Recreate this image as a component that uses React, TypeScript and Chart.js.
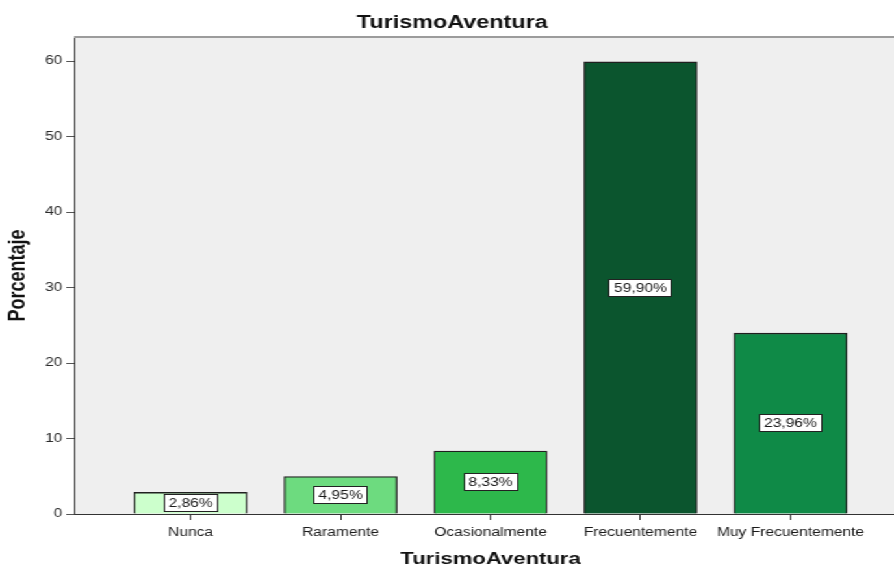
import React, { useEffect, useRef } from "react";
import { Chart, registerables } from "chart.js";

Chart.register(...registerables);

// ---- data ----
const categories = ["Nunca", "Raramente", "Ocasionalmente", "Frecuentemente", "Muy Frecuentemente"];
const percentages = [2.86, 4.95, 8.33, 59.9, 23.96];
const barColors = ["#ccffcc", "#6ddb7f", "#2db84b", "#0b552e", "#0f8a47"];
const yTicks = [0, 10, 20, 30, 40, 50, 60];
const chartTitle = "TurismoAventura";
const xTitle = "TurismoAventura";
const yTitle = "Porcentaje";

// ---- layout ----
const LOGICAL_W = 688;
const LOGICAL_H = 569;
const STRETCH = 894 / LOGICAL_W;
const FONT = '"Liberation Sans", Arial, sans-serif';

const decorPlugin = {
  id: "decor",
  beforeDraw(chart: any) {
    const { ctx, chartArea: a } = chart;
    ctx.save();
    ctx.fillStyle = "#ffffff";
    ctx.fillRect(0, 0, chart.width, chart.height);
    ctx.fillStyle = "#efefef";
    ctx.fillRect(a.left, a.top, a.right - a.left, a.bottom - a.top);
    ctx.restore();
  },
  afterDatasetsDraw(chart: any) {
    const { ctx } = chart;
    const meta = chart.getDatasetMeta(0);
    ctx.save();
    ctx.font = `12px ${FONT}`;
    meta.data.forEach((bar: any, i: number) => {
      const v = percentages[i];
      const text = v.toFixed(2).replace(".", ",") + "%";
      const { x, y, base } = bar.getProps(["x", "y", "base"], true);
      const cy = (y + base) / 2;
      const w = Math.round(ctx.measureText(text).width + 8);
      const h = 18;
      const bx = Math.round(x - w / 2);
      const by = Math.round(cy - h / 2);
      ctx.fillStyle = "#ffffff";
      ctx.fillRect(bx, by, w, h);
      ctx.strokeStyle = "#222222";
      ctx.lineWidth = 1;
      ctx.strokeRect(bx + 0.5, by + 0.5, w - 1, h - 1);
      ctx.fillStyle = "#1a1a1a";
      ctx.textAlign = "center";
      ctx.textBaseline = "middle";
      ctx.fillText(text, x, by + h / 2 + 1);
    });
    ctx.restore();
  },
  afterDraw(chart: any) {
    const { ctx, chartArea: a } = chart;
    ctx.save();
    // top frame line
    ctx.fillStyle = "#9c9c9c";
    ctx.fillRect(a.left, a.top - 1, a.right - a.left, 2);
    // main title
    ctx.fillStyle = "#111111";
    ctx.textAlign = "center";
    ctx.textBaseline = "alphabetic";
    ctx.font = `bold 18px ${FONT}`;
    ctx.fillText(chartTitle, chart.width / 2 + 4, 28);
    // x title
    ctx.font = `bold 17px ${FONT}`;
    ctx.fillText(xTitle, chart.scales.x.getPixelForValue(2), 564);
    // y title
    ctx.translate(14.5, (a.top + a.bottom) / 2);
    ctx.rotate(-Math.PI / 2);
    ctx.textBaseline = "middle";
    ctx.font = `bold 18px ${FONT}`;
    ctx.fillText(yTitle, 0, 0);
    ctx.restore();
  },
};

export default function App() {
  const canvasRef = useRef<HTMLCanvasElement | null>(null);

  useEffect(() => {
    if (!canvasRef.current) return;
    const chart = new Chart(canvasRef.current, {
      type: "bar",
      data: {
        datasets: [
          {
            data: categories.map((_, i) => ({ x: i, y: percentages[i] })),
            backgroundColor: barColors,
            borderColor: "#1f1f1f",
            borderWidth: 1.3,
            barThickness: 87,
          } as any,
        ],
      },
      options: {
        animation: false,
        responsive: true,
        maintainAspectRatio: false,
        layout: { padding: { top: 37, left: 0, right: 0, bottom: 0 } },
        plugins: {
          legend: { display: false },
          tooltip: { enabled: false },
          title: { display: false },
        },
        scales: {
          x: {
            type: "linear",
            offset: false,
            min: -0.7767,
            max: 4.69,
            afterBuildTicks: (s: any) => {
              s.ticks = categories.map((_, i) => ({ value: i }));
            },
            afterFit: (s: any) => {
              s.height = 55;
            },
            grid: { offset: false, drawOnChartArea: false, drawTicks: true, tickLength: 6, tickColor: "#333333" },
            border: { display: true, color: "#333333", width: 1 },
            ticks: {
              callback: (v: any) => categories[v as number] ?? "",
              font: { size: 12, family: FONT },
              color: "#1a1a1a",
              padding: 5,
              maxRotation: 0,
              autoSkip: false,
            },
          },
          y: {
            min: 0,
            max: 63.2,
            afterBuildTicks: (s: any) => {
              s.ticks = yTicks.map((v) => ({ value: v }));
            },
            afterFit: (s: any) => {
              s.width = 57;
            },
            grid: { drawOnChartArea: false, drawTicks: true, tickLength: 6, tickColor: "#555555" },
            border: { display: true, color: "#333333", width: 1 },
            ticks: {
              font: { size: 12, family: FONT },
              color: "#2a2a2a",
              padding: 3,
            },
          },
        },
      } as any,
      plugins: [decorPlugin],
    });
    return () => chart.destroy();
  }, []);

  return (
    <div
      style={{
        position: "absolute",
        left: 0,
        top: 0,
        width: LOGICAL_W,
        height: LOGICAL_H,
        transform: `scaleX(${STRETCH})`,
        transformOrigin: "0 0",
        background: "#ffffff",
      }}
    >
      <canvas ref={canvasRef} />
    </div>
  );
}
